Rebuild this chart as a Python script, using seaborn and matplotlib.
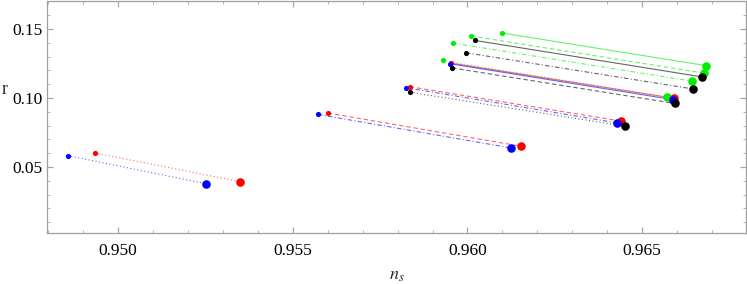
import matplotlib
matplotlib.use("Agg")
import matplotlib.pyplot as plt
import numpy as np
import pandas as pd
import seaborn as sns
from matplotlib.ticker import MultipleLocator, FormatStrFormatter

# one segment per curve: small dot at start, big dot at end
ns_start = [0.96099, 0.96011, 0.96022, 0.95958, 0.95996, 0.95929, 0.95953, 0.95951, 0.95956,
            0.95835, 0.95823, 0.95835,
            0.95601, 0.95573,
            0.94934, 0.94856]
r_start = [0.1471, 0.1449, 0.1417, 0.1398, 0.1328, 0.1272, 0.1253, 0.1248, 0.1218,
           0.1082, 0.1075, 0.1042,
           0.0891, 0.0881,
           0.0602, 0.0583]
ns_end = [0.96682, 0.96678, 0.96671, 0.96643, 0.96644, 0.96571, 0.96592, 0.96589, 0.96593,
          0.96439, 0.96428, 0.96451,
          0.96153, 0.96125,
          0.95349, 0.95251]
r_end = [0.1235, 0.1180, 0.1153, 0.1122, 0.1066, 0.1005, 0.0998, 0.0988, 0.0961,
         0.0833, 0.0820, 0.0796,
         0.0651, 0.0638,
         0.0394, 0.0379]

colors = ['#00ee00', '#00ee00', 'black', '#00ee00', 'black', '#00ee00', 'red', 'blue', 'black',
          'red', 'blue', 'black',
          'red', 'blue',
          'red', 'blue']
dot = (0, (1, 2.2))
dash = (0, (4, 2.5))
dashdot = (0, (4, 2, 1, 2))
styles = ['-', dash, '-', dashdot, dashdot, dot, '-', '-', dash,
          dash, dashdot, dot,
          dash, dashdot,
          dot, dot]

sns.set_theme(style="ticks")
plt.rcParams['font.family'] = ['Liberation Serif', 'DejaVu Serif']
plt.rcParams['mathtext.fontset'] = 'stix'

fig = plt.figure(figsize=(7.47, 2.84), dpi=100)
ax = fig.add_axes([0.0629, 0.1796, 0.9358, 0.8169])

for i in range(len(ns_start)):
    seg = pd.DataFrame({'ns': [ns_start[i], ns_end[i]], 'r': [r_start[i], r_end[i]]})
    sns.lineplot(data=seg, x='ns', y='r', color=colors[i], linestyle=styles[i],
                 lw=0.8, alpha=0.6, ax=ax, sort=False)

for i in range(len(ns_start)):
    sns.scatterplot(x=[ns_start[i]], y=[r_start[i]], color=colors[i], s=14,
                    linewidth=0, ax=ax, zorder=3)
    sns.scatterplot(x=[ns_end[i]], y=[r_end[i]], color=colors[i], s=38,
                    linewidth=0, ax=ax, zorder=3)

ax.set_xlim(0.94797, 0.96797)
ax.set_ylim(0.0022, 0.1703)
ax.xaxis.set_major_locator(MultipleLocator(0.005))
ax.xaxis.set_minor_locator(MultipleLocator(0.001))
ax.yaxis.set_major_locator(MultipleLocator(0.05))
ax.yaxis.set_minor_locator(MultipleLocator(0.01))
ax.xaxis.set_major_formatter(FormatStrFormatter('%.3f'))
ax.yaxis.set_major_formatter(FormatStrFormatter('%.2f'))

ax.tick_params(which='both', direction='in', top=True, right=True, color='#a8a8a8',
               labelsize=12.5, labelcolor='black')
ax.tick_params(which='major', length=4.5, width=0.9)
ax.tick_params(which='minor', length=2.5, width=0.6)
ax.tick_params(axis='x', pad=7)
ax.tick_params(axis='y', pad=3)
for sp in ax.spines.values():
    sp.set_color('#a0a0a0')
    sp.set_linewidth(0.9)

ax.set_xlabel('$n_s$', fontsize=13)
ax.set_ylabel('r', rotation=0, fontsize=13)
ax.xaxis.set_label_coords(0.5, -0.145)
ax.yaxis.set_label_coords(-0.06, 0.58)

fig.savefig('out.png', dpi=100)
